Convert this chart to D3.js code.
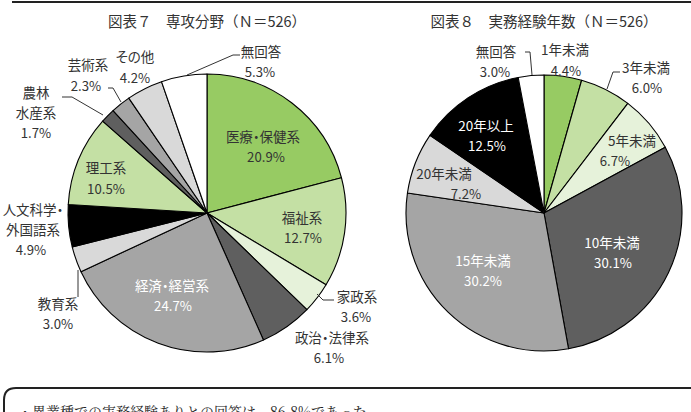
<!DOCTYPE html>
<html><head><meta charset="utf-8">
<script src="https://cdn.jsdelivr.net/npm/d3@7"></script>
<style>
html,body{margin:0;padding:0;background:#fff;}
svg{display:block;}
text{font-family:"Noto Sans CJK JP","Noto Sans",sans-serif;}
.lbl{font-feature-settings:"palt";}
</style></head>
<body><svg id="c" width="691" height="412"></svg>
<script>
// ---- data ----
const title1 = "図表７　専攻分野（Ｎ＝526）";
const majors = ["医療・保健系","福祉系","家政系","政治・法律系","経済・経営系","教育系","人文科学・外国語系","理工系","農林水産系","芸術系","その他","無回答"];
const majorValues = [20.9,12.7,3.6,6.1,24.7,3.0,4.9,10.5,1.7,2.3,4.2,5.3];
const majorLabelLines = [["医療・保健系"],["福祉系"],["家政系"],["政治・法律系"],["経済・経営系"],["教育系"],["人文科学・","外国語系"],["理工系"],["農林","水産系"],["芸術系"],["その他"],["無回答"]];

const title2 = "図表８　実務経験年数（Ｎ＝526）";
const years = ["1年未満","3年未満","5年未満","10年未満","15年未満","20年未満","20年以上","無回答"];
const yearValues = [4.4,6.0,6.7,30.1,30.2,7.2,12.5,3.0];

const note = "・異業種での実務経験ありとの回答は、86.8%であった。";

// ---- styles / layout ----
const C = {g1:"#97cb63", g2:"#c4e0a4", g3:"#e6f2da", d:"#5f5f5f", m:"#a5a5a5", l:"#d9d9d9", k:"#000000", w:"#ffffff"};
const majorColors = [C.g1,C.g2,C.g3,C.d,C.m,C.l,C.k,C.g2,C.d,C.m,C.l,C.w];
const yearColors = [C.g1,C.g2,C.g3,C.d,C.m,C.l,C.k,C.w];
const majorTextColors = ["#333","#333","#333","#333","#fff","#333","#333","#333","#333","#333","#333","#333"];
const yearTextColors = ["#333","#333","#333","#fff","#fff","#333","#fff","#333"];

// label layout (absolute px, text vertical centres): name first line, percentage
const majorNamePos = [[263,137],[302,218],[357,297],[332,338],[172,286],[58,304],[33,210],[106,168],[36,93],[88,65],[135,57],[261,52]];
const majorPctPos  = [[266,157],[303,238],[356,317],[329,358],[173,306],[58,324],[31,250],[106,189],[36,133],[86,86],[135,78],[260,72]];
const yearNamePos = [[565,50],[646,68],[632,141],[612,243],[483,261],[444,174],[486,126],[496,52]];
const yearPctPos  = [[566,71],[647,88],[615,161],[613,263],[483,281],[466,194],[487,146],[495,72]];
const majorLeaders = [[[317,294],[323,300],[334,300]],[[78,270],[78,297]],[[62,97],[72,97],[103,115]],[[108,88],[113,88],[121,102]],[[187,75],[233,55],[240,55]]];
const yearLeaders = [[[620,72],[613,72],[607,89]],[[525,52],[530,52],[532,75]]];

const svg = d3.select("#c");

// top rule
svg.append("line").attr("x1",12).attr("x2",691).attr("y1",2).attr("y2",2).attr("stroke","#222").attr("stroke-width",2.2);

function drawPie(cx, cy, r, values, colors, tcolors, lines, namePos, pctPos, leaders, title){
  const g = svg.append("g");
  g.append("text").attr("x",cx).attr("y",27).attr("text-anchor","middle").attr("font-size",14.5).attr("fill","#333").text(title);
  const pie = d3.pie().sort(null).value(d=>d)(values);
  const arc = d3.arc().innerRadius(0).outerRadius(r);
  g.append("g").attr("transform",`translate(${cx},${cy})`).selectAll("path").data(pie).join("path")
    .attr("d",arc).attr("fill",(d,i)=>colors[i]).attr("stroke","#000").attr("stroke-width",1.1).attr("stroke-linejoin","round");
  const line = d3.line();
  leaders.forEach(pts=>{
    g.append("path").attr("d",line(pts)).attr("fill","none").attr("stroke","#333").attr("stroke-width",1);
  });
  pie.forEach((d,i)=>{
    const ls = lines[i];
    const [x,y] = namePos[i];
    ls.forEach((s,j)=>{
      g.append("text").attr("class","lbl").attr("text-anchor","middle").attr("font-size",13.5).attr("fill",tcolors[i])
        .attr("x",x).attr("y",y+j*20+5).text(s);
    });
    const [px,py] = pctPos[i];
    g.append("text").attr("text-anchor","middle").attr("font-size",13.2).attr("fill",tcolors[i])
      .attr("x",px).attr("y",py+5).text(values[i].toFixed(1)+"%");
  });
}

drawPie(207,213,139,majorValues,majorColors,majorTextColors,majorLabelLines,majorNamePos,majorPctPos,majorLeaders,title1);
drawPie(544,213,138,yearValues,yearColors,yearTextColors,years.map(s=>[s]),yearNamePos,yearPctPos,yearLeaders,title2);

// note box (cut off at bottom, as in the reference)
const bx=4, by=388, rr=12;
svg.append("path").attr("d",`M${bx},420 L${bx},${by+rr} Q${bx},${by} ${bx+rr},${by} L691,${by}`)
  .attr("fill","none").attr("stroke","#222").attr("stroke-width",2);
svg.append("text").attr("x",18).attr("y",417).attr("font-size",14).attr("fill","#222")
  .style("font-family","'Noto Serif CJK JP','Noto Sans CJK JP',serif").text(note);
</script></body></html>
